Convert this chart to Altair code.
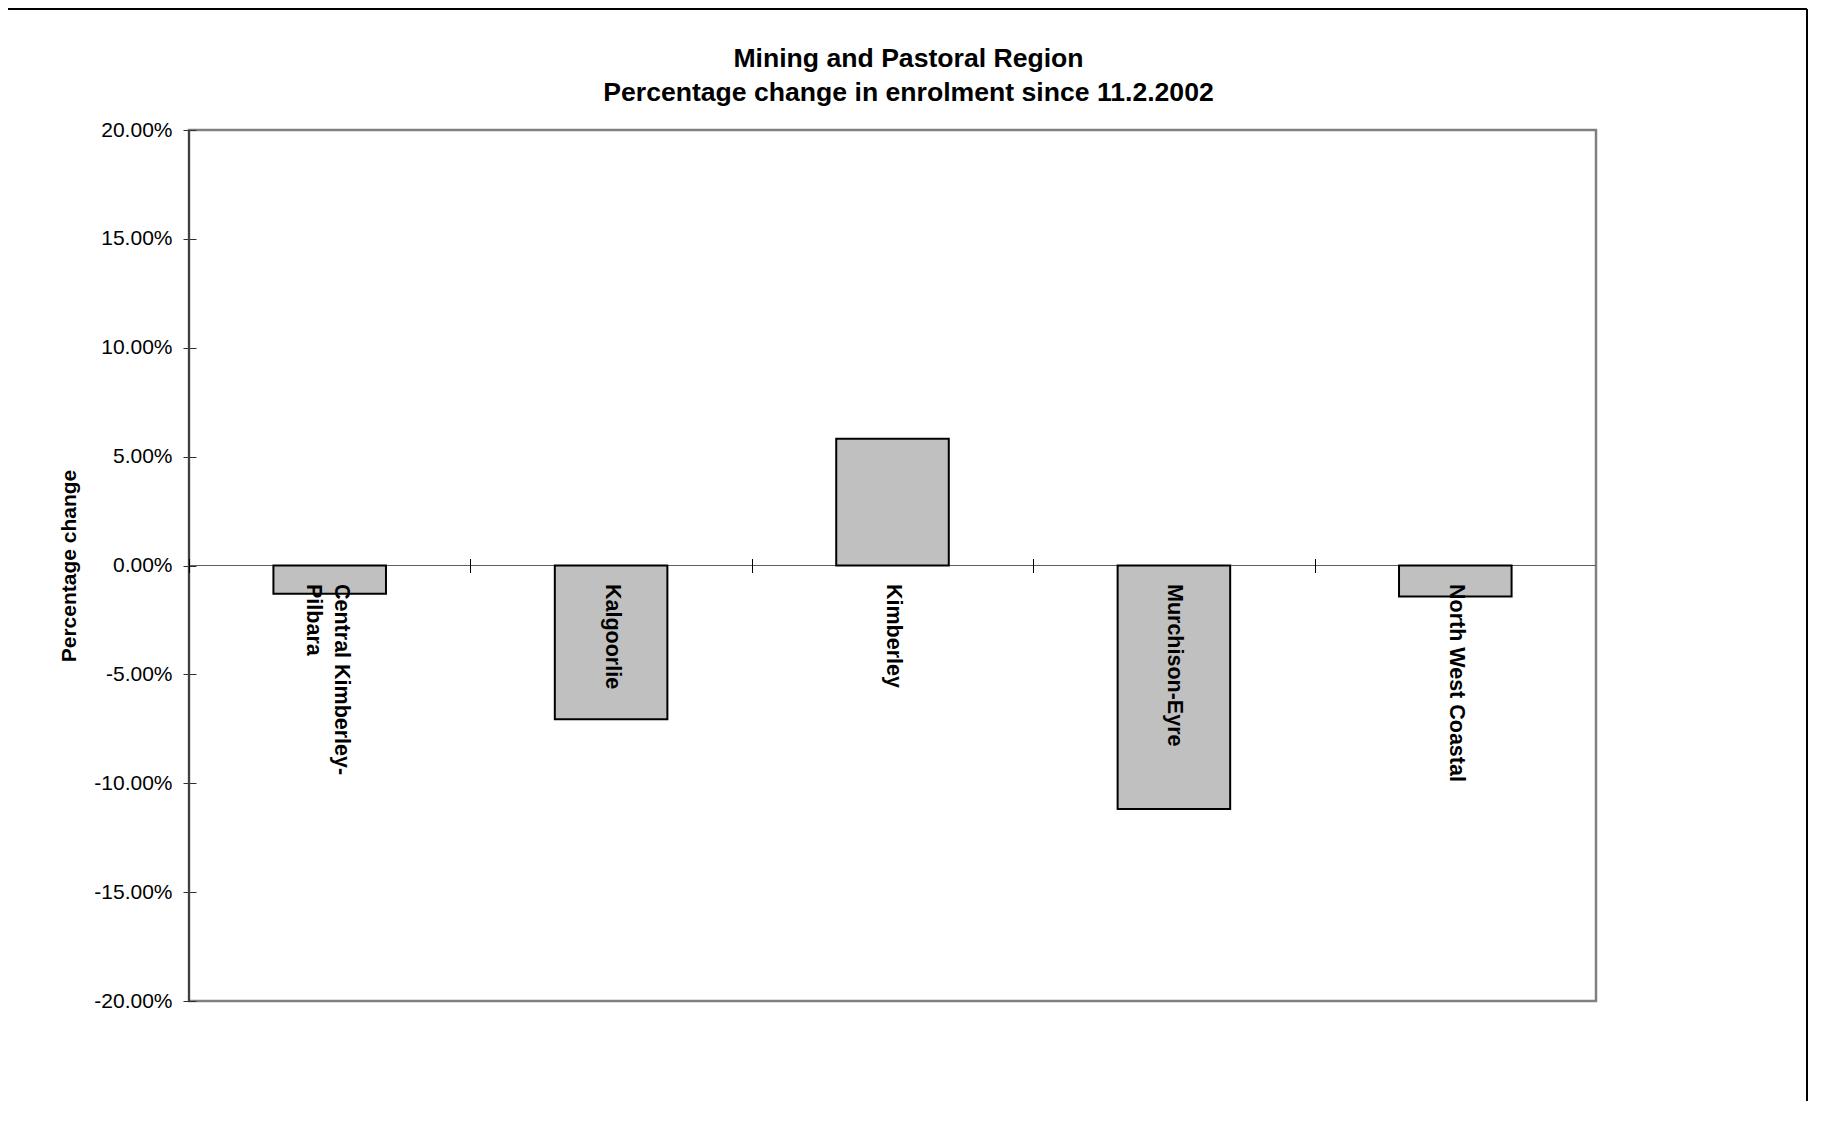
import altair as alt
import pandas as pd

# ---- data ----
regions = ["Central Kimberley-\nPilbara", "Kalgoorlie", "Kimberley", "Murchison-Eyre", "North West Coastal"]
changes = [-0.0130, -0.0706, 0.0582, -0.1118, -0.0142]
y_ticks = [-0.20, -0.15, -0.10, -0.05, 0.0, 0.05, 0.10, 0.15, 0.20]
title_lines = ["Mining and Pastoral Region", "Percentage change in enrolment since 11.2.2002"]
y_title = "Percentage change"

W, H = 1407, 871
STEP = W / len(regions)
FONT = "Liberation Sans"

df = pd.DataFrame({"region": regions, "change": changes})

yscale = alt.Scale(domain=[-0.2, 0.2], nice=False)
xscale = alt.Scale(paddingInner=0.6, paddingOuter=0.3)

base = alt.Chart(df)

zero_line = base.mark_rule(color="#606060", strokeWidth=1).encode(
    y=alt.datum(0, scale=yscale)
)

bars = base.mark_bar(fill="#C0C0C0", stroke="#000000", strokeWidth=2).encode(
    x=alt.X(
        "region:N",
        sort=regions,
        scale=xscale,
        axis=alt.Axis(
            title=None,
            orient="bottom",
            offset=-(H / 2 + 7),
            domain=False,
            ticks=True,
            tickSize=14,
            tickColor="#000000",
            tickWidth=1,
            bandPosition=0,
            tickOffset=-0.3 * STEP,
            labelOffset=0.3 * STEP,
            labelAngle=90,
            labelAlign="left",
            labelBaseline={
                "condition": {"test": "indexof(datum.value, '\\n') >= 0", "value": "bottom"},
                "value": "middle",
            },
            labelFont=FONT,
            labelFontSize=21.5,
            labelFontWeight="bold",
            labelColor="#000000",
            labelPadding=11,
            labelLimit=500,
            labelLineHeight=28,
            labelOverlap=False,
            labelExpr="split(datum.label, '\\n')",
            zindex=1,
        ),
    ),
    y=alt.Y(
        "change:Q",
        scale=yscale,
        axis=alt.Axis(
            title=y_title,
            values=y_ticks,
            offset=-7,
            domain=False,
            grid=False,
            tickSize=13,
            tickColor="#303030",
            tickWidth=1,
            labelPadding=11,
            labelFont=FONT,
            labelFontSize=21,
            labelColor="#000000",
            labelExpr="replace(format(datum.value, '.2%'), '\u2212', '-')",
            titleFont=FONT,
            titleFontSize=21,
            titleFontWeight="bold",
            titleColor="#000000",
            titlePadding=14,
        ),
    ),
)

left_axis = base.mark_rule(color="#404040", strokeWidth=2).encode(
    x=alt.value(0), y=alt.value(0), y2=alt.value(H)
)

border_top = base.mark_rule(color="#000000", strokeWidth=1.5).encode(
    x=alt.value(-181), x2=alt.value(W + 211), y=alt.value(-121)
)
border_right = base.mark_rule(color="#000000", strokeWidth=1.5).encode(
    x=alt.value(W + 211), y=alt.value(-121), y2=alt.value(H + 100)
)

chart = (
    alt.layer(zero_line, bars, left_axis, border_top, border_right)
    .properties(
        width=W,
        height=H,
        background="#FFFFFF",
        title=alt.TitleParams(
            text=title_lines,
            font=FONT,
            fontSize=26.6,
            fontWeight="bold",
            color="#000000",
            anchor="middle",
            frame="group",
            dx=16,
            offset=-125,
            baseline="bottom",
            lineHeight=33.5,
        ),
        autosize=alt.AutoSizeParams(type="none"),
        padding={"left": 181, "top": 122, "right": 212, "bottom": 100},
    )
    .configure_view(stroke="#808080", strokeWidth=2.5)
)

chart.save("out.html", embed_options={"renderer": "svg", "actions": False})
